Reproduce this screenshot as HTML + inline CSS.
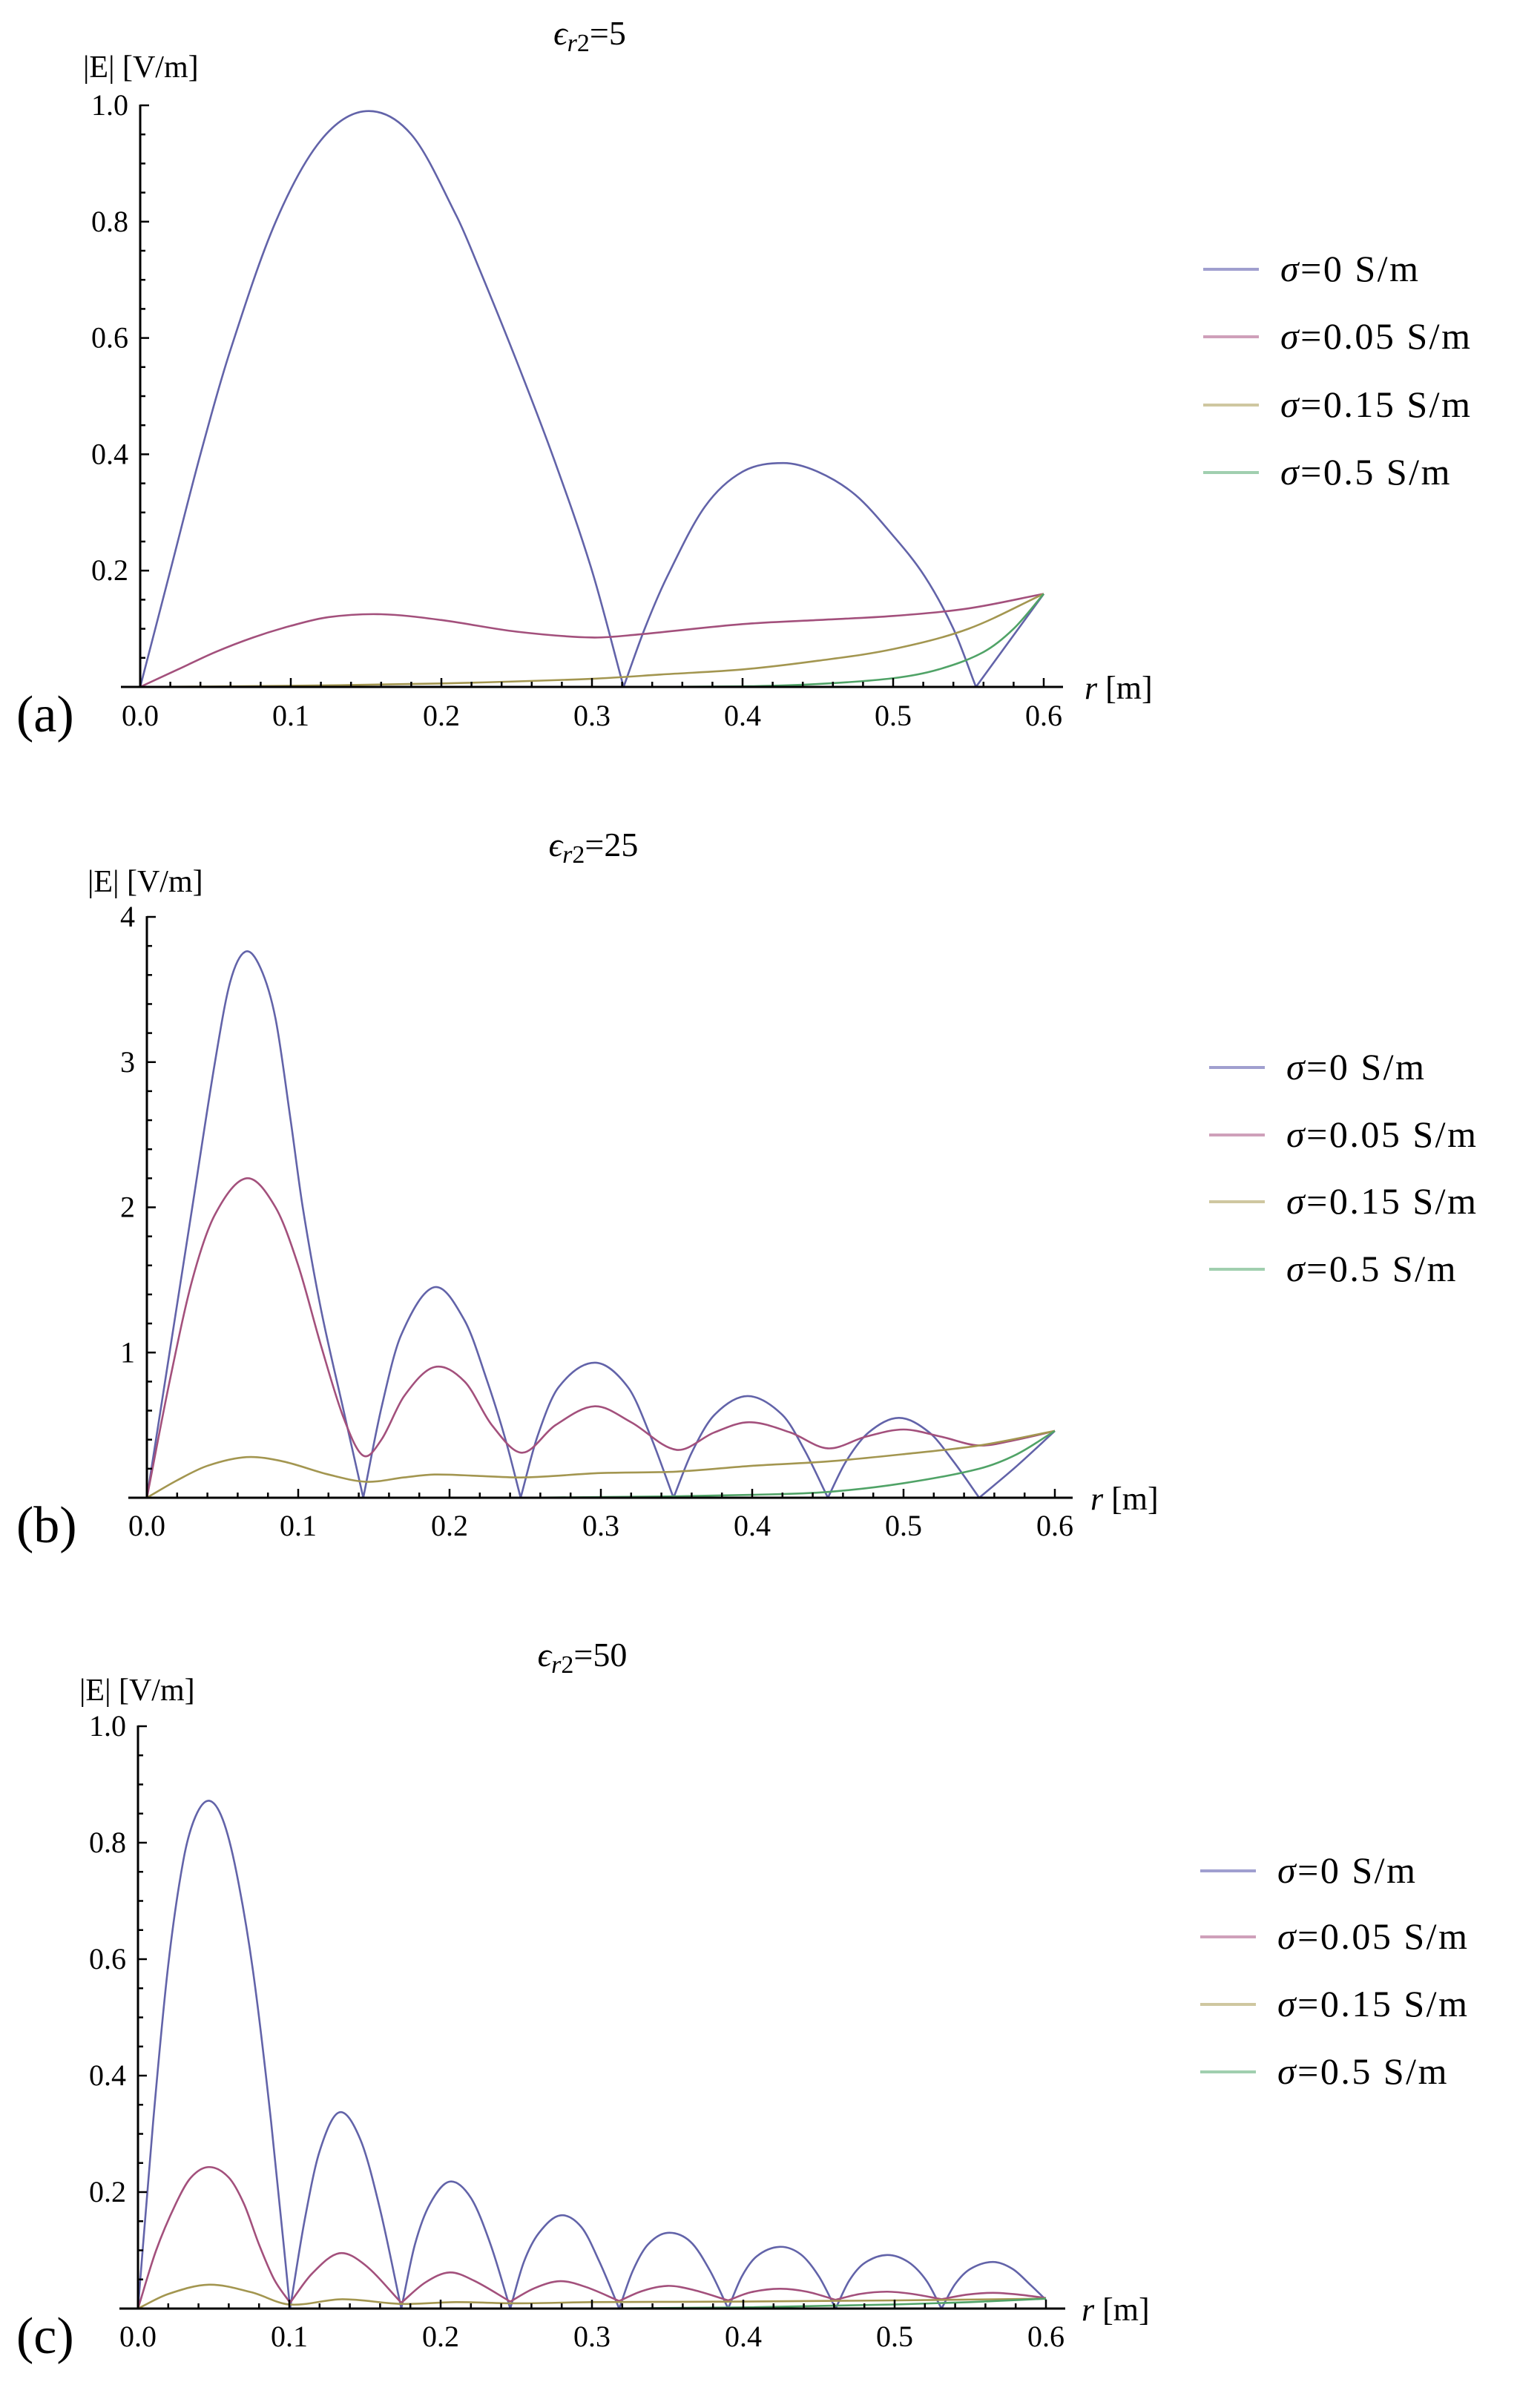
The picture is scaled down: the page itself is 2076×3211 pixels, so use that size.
<!DOCTYPE html>
<html><head><meta charset="utf-8"><style>
html,body{margin:0;padding:0;background:#fff;}
svg{display:block;font-family:"Liberation Serif",serif;}
</style></head><body>
<svg id="fig" width="2076" height="3211" viewBox="0 0 2076 3211" xmlns="http://www.w3.org/2000/svg"></svg>
<script>
// ---------- Data (r [m], |E| [V/m]) ----------
const seriesNames = ["σ=0 S/m","σ=0.05 S/m","σ=0.15 S/m","σ=0.5 S/m"];
const xTickLabels = ["0.0","0.1","0.2","0.3","0.4","0.5","0.6"];
const yTickLabelsA = ["0.2","0.4","0.6","0.8","1.0"];
const yTickLabelsB = ["1","2","3","4"];
const yTickLabelsC = ["0.2","0.4","0.6","0.8","1.0"];

// panel (a) eps_r2 = 5
const a_blue_r = [0,0.02,0.04,0.06,0.09,0.12,0.15,0.18,0.21,0.225,0.25,0.275,0.3,0.321,0.335,0.35,0.375,0.4,0.427,0.45,0.475,0.5,0.521,0.54,0.555,0.6];
const a_blue_v = [0,0.2,0.4,0.58,0.8,0.94,0.99,0.95,0.81,0.72,0.56,0.39,0.2,0,0.1,0.19,0.31,0.37,0.385,0.37,0.33,0.26,0.19,0.1,0,0.16];
const a_mag_r = [0,0.025,0.05,0.075,0.1,0.125,0.16,0.2,0.25,0.3,0.33,0.4,0.45,0.5,0.55,0.6];
const a_mag_v = [0,0.03,0.06,0.085,0.105,0.12,0.125,0.115,0.095,0.085,0.09,0.108,0.115,0.122,0.135,0.16];
const a_tan_r = [0,0.1,0.2,0.3,0.35,0.4,0.45,0.5,0.55,0.6];
const a_tan_v = [0,0.002,0.006,0.014,0.022,0.03,0.045,0.065,0.1,0.16];
const a_grn_r = [0,0.3,0.4,0.45,0.5,0.53,0.56,0.58,0.6];
const a_grn_v = [0,0,0.001,0.005,0.015,0.03,0.06,0.1,0.16];

// panel (b) eps_r2 = 25
const b_blue_r = [0,0.015,0.03,0.045,0.055,0.065,0.075,0.085,0.095,0.103,0.115,0.13,0.143,0.155,0.168,0.19,0.21,0.225,0.237,0.247,0.258,0.272,0.296,0.318,0.333,0.348,0.36,0.375,0.397,0.42,0.435,0.45,0.462,0.477,0.497,0.517,0.533,0.55,0.575,0.6];
const b_blue_v = [0,1.0,2.0,3.0,3.55,3.76,3.65,3.3,2.6,2.0,1.3,0.6,0,0.62,1.12,1.45,1.22,0.8,0.4,0,0.42,0.76,0.93,0.76,0.42,0,0.31,0.57,0.7,0.57,0.32,0,0.25,0.45,0.55,0.45,0.25,0,0.22,0.46];
const b_mag_r = [0,0.015,0.03,0.045,0.066,0.085,0.1,0.115,0.13,0.143,0.155,0.17,0.19,0.21,0.228,0.248,0.27,0.296,0.32,0.35,0.375,0.398,0.425,0.45,0.475,0.5,0.525,0.55,0.575,0.6];
const b_mag_v = [0,0.8,1.5,1.95,2.2,2.0,1.6,1.05,0.55,0.29,0.4,0.7,0.9,0.8,0.5,0.31,0.5,0.63,0.52,0.33,0.45,0.52,0.45,0.34,0.42,0.47,0.42,0.36,0.4,0.46];
const b_tan_r = [0,0.02,0.04,0.066,0.09,0.12,0.145,0.17,0.19,0.22,0.25,0.3,0.35,0.4,0.45,0.5,0.55,0.6];
const b_tan_v = [0,0.12,0.22,0.28,0.25,0.16,0.11,0.14,0.16,0.15,0.14,0.17,0.18,0.22,0.25,0.3,0.36,0.46];
const b_grn_r = [0,0.25,0.35,0.4,0.45,0.5,0.55,0.575,0.6];
const b_grn_v = [0,0,0.01,0.02,0.04,0.1,0.2,0.3,0.46];

// panel (c) eps_r2 = 50
const c_blue_r = [0,0.01,0.02,0.03,0.038,0.047,0.056,0.065,0.076,0.088,0.1005,0.11,0.12,0.133,0.147,0.16,0.174,0.183,0.193,0.206,0.22,0.233,0.246,0.255,0.265,0.279,0.293,0.305,0.318,0.327,0.337,0.35,0.365,0.378,0.39,0.399,0.409,0.424,0.438,0.45,0.461,0.47,0.48,0.495,0.509,0.521,0.531,0.54,0.55,0.565,0.578,0.59,0.6];
const c_blue_v = [0,0.32,0.59,0.77,0.845,0.872,0.84,0.75,0.58,0.32,0,0.15,0.27,0.337,0.29,0.17,0,0.11,0.18,0.218,0.19,0.11,0,0.08,0.13,0.16,0.14,0.08,0,0.065,0.11,0.13,0.115,0.065,0,0.055,0.09,0.106,0.093,0.055,0,0.048,0.078,0.092,0.08,0.048,0,0.042,0.068,0.08,0.068,0.04,0.015];
const c_mag_r = [0,0.012,0.025,0.035,0.047,0.06,0.07,0.08,0.09,0.1005,0.115,0.133,0.15,0.174,0.19,0.206,0.222,0.246,0.262,0.279,0.296,0.318,0.333,0.35,0.367,0.39,0.405,0.424,0.442,0.461,0.477,0.495,0.512,0.531,0.548,0.565,0.582,0.6];
const c_mag_v = [0,0.1,0.18,0.225,0.243,0.225,0.18,0.11,0.05,0.01,0.06,0.095,0.075,0.01,0.045,0.062,0.048,0.012,0.035,0.047,0.037,0.013,0.03,0.039,0.032,0.014,0.028,0.034,0.029,0.015,0.025,0.029,0.025,0.016,0.024,0.027,0.024,0.018];
const c_tan_r = [0,0.02,0.047,0.075,0.1,0.135,0.174,0.21,0.25,0.3,0.4,0.5,0.6];
const c_tan_v = [0,0.025,0.041,0.028,0.007,0.016,0.008,0.011,0.009,0.011,0.012,0.014,0.017];
const c_grn_r = [0,0.3,0.4,0.5,0.55,0.6];
const c_grn_v = [0,0,0.002,0.007,0.011,0.017];

const lineColors = ["#6263a9","#a3507c","#a39650","#50a367"];
const legendColors = ["#a09fcf","#cfa0ba","#cfc7a0","#a0cfaf"];

const panels = [
  {id:"a", title:"5", x0:189, x6:1407, y0:926, yTop:142, yMax:1.0, yMajor:0.2, yMinor:0.05, yLabels:yTickLabelsA,
   axL:163, axR:1433, series:[[a_blue_r,a_blue_v,true],[a_mag_r,a_mag_v,false],[a_tan_r,a_tan_v,false],[a_grn_r,a_grn_v,false]],
   titleX:795, titleY:60, ylabX:112, ylabY:104, rX:1462, rY:942, labY:978, legX:1622, legY:[363,454,546,637]},
  {id:"b", title:"25", x0:198, x6:1422, y0:2019, yTop:1236, yMax:4, yMajor:1, yMinor:0.2, yLabels:yTickLabelsB,
   axL:173, axR:1446, series:[[b_blue_r,b_blue_v,true],[b_mag_r,b_mag_v,false],[b_tan_r,b_tan_v,false],[b_grn_r,b_grn_v,false]],
   titleX:800, titleY:1154, ylabX:118, ylabY:1202, rX:1470, rY:2035, labY:2070, legX:1630, legY:[1439,1530,1620,1711]},
  {id:"c", title:"50", x0:186, x6:1410, y0:3112, yTop:2327, yMax:1.0, yMajor:0.2, yMinor:0.05, yLabels:yTickLabelsC,
   axL:161, axR:1436, series:[[c_blue_r,c_blue_v,true],[c_mag_r,c_mag_v,true],[c_tan_r,c_tan_v,false],[c_grn_r,c_grn_v,false]],
   titleX:785, titleY:2246, ylabX:107, ylabY:2292, rX:1458, rY:3128, labY:3163, legX:1618, legY:[2522,2611,2702,2793]}
];

const NS = "http://www.w3.org/2000/svg";
const svg = document.getElementById("fig");
function mk(tag, attrs, parent){
  const e = document.createElementNS(NS, tag);
  for (const k in attrs) e.setAttribute(k, attrs[k]);
  (parent||svg).appendChild(e);
  return e;
}

function hermite(pts){
  const n = pts.length;
  let d = "M"+pts[0][0].toFixed(2)+","+pts[0][1].toFixed(2);
  if (n<2) return d;
  const m=[];
  for (let i=0;i<n;i++){
    const a = pts[Math.max(0,i-1)], b = pts[Math.min(n-1,i+1)];
    m[i] = (b[1]-a[1])/(b[0]-a[0]);
  }
  for (let i=0;i<n-1;i++){
    const h=pts[i+1][0]-pts[i][0];
    d += " C"+(pts[i][0]+h/3).toFixed(2)+","+(pts[i][1]+m[i]*h/3).toFixed(2)+" "+
         (pts[i+1][0]-h/3).toFixed(2)+","+(pts[i+1][1]-m[i+1]*h/3).toFixed(2)+" "+
         pts[i+1][0].toFixed(2)+","+pts[i+1][1].toFixed(2);
  }
  return d;
}

panels.forEach(function(P){
  const g = mk("g",{});
  
  
  const xs = r => P.x0 + (P.x6-P.x0)*r/0.6;
  const ys = v => P.y0 - (P.y0-P.yTop)*v/P.yMax;

  P.series.forEach(function(s, si){
    const R = s[0], V = s[1], cusp = s[2];
    const pts = R.map((r,i)=>[xs(r), ys(V[i])]);
    let segs = [], cur = [pts[0]];
    for (let i=1;i<pts.length;i++){
      cur.push(pts[i]);
      const isMin = cusp && i<pts.length-1 && V[i]<=V[i-1] && V[i]<=V[i+1];
      if (isMin){ segs.push(cur); cur=[pts[i]]; }
    }
    segs.push(cur);
    const d = segs.map(hermite).join(" ");
    const p = mk("path",{d:d, fill:"none", stroke:lineColors[si], "stroke-width":"2.6", "stroke-linejoin":"round"}, g);
    
    
  });

  const xa = mk("line",{x1:P.axL, y1:P.y0, x2:P.axR, y2:P.y0, stroke:"#000", "stroke-width":"3"}, g);
  
  
  const ya = mk("line",{x1:P.x0, y1:P.y0+1, x2:P.x0, y2:P.yTop-1, stroke:"#000", "stroke-width":"3"}, g);
  
  

  for (let k=0;k<=30;k++){
    const r = k*0.02, x = xs(r), major = (k%5===0);
    mk("line",{x1:x, y1:P.y0, x2:x, y2:P.y0-(major?12:7), stroke:"#000", "stroke-width":"2.5"}, g);
    if (major){
      const t = mk("text",{x:x, y:P.labY, "font-size":"40", "text-anchor":"middle"}, g);
      
      
      t.textContent = xTickLabels[k/5];
    }
  }
  const nMinor = Math.round(P.yMax/P.yMinor);
  const per = Math.round(P.yMajor/P.yMinor);
  for (let k=1;k<=nMinor;k++){
    const v = k*P.yMinor, y = ys(v), major = (k%per===0);
    mk("line",{x1:P.x0, y1:y, x2:P.x0+(major?12:7), y2:y, stroke:"#000", "stroke-width":"2.5"}, g);
    if (major){
      const t = mk("text",{x:P.x0-16, y:y+13, "font-size":"40", "text-anchor":"end"}, g);
      
      
      t.textContent = P.yLabels[k/per-1];
    }
  }

  const tt = mk("text",{x:P.titleX, y:P.titleY, "font-size":"46", "text-anchor":"middle"}, g);
  
  
  tt.innerHTML = '<tspan font-style="italic">ϵ</tspan><tspan font-style="italic" font-size="34" dy="9">r</tspan><tspan font-size="34">2</tspan><tspan dy="-9">='+P.title+'</tspan>';

  const yl = mk("text",{x:P.ylabX, y:P.ylabY, "font-size":"42"}, g);
  
  
  yl.textContent = "|E| [V/m]";
  const xl = mk("text",{x:P.rX, y:P.rY, "font-size":"44"}, g);
  
  
  xl.innerHTML = '<tspan font-style="italic">r</tspan> [m]';
  const pl = mk("text",{x:22, y:P.y0+60, "font-size":"70"}, g);
  
  
  pl.textContent = "("+P.id+")";

  const lg = mk("g",{}, g);
  
  
  seriesNames.forEach(function(nm, i){
    const y = P.legY[i];
    const ln = mk("line",{x1:P.legX, y1:y, x2:P.legX+75, y2:y, stroke:legendColors[i], "stroke-width":"4"}, lg);
    
    
    const t = mk("text",{x:P.legX+104, y:y+16, "font-size":"50", "letter-spacing":"2.5"}, lg);
    
    
    t.innerHTML = '<tspan font-style="italic">σ</tspan>'+nm.slice(1);
  });
});
</script>
</body></html>
